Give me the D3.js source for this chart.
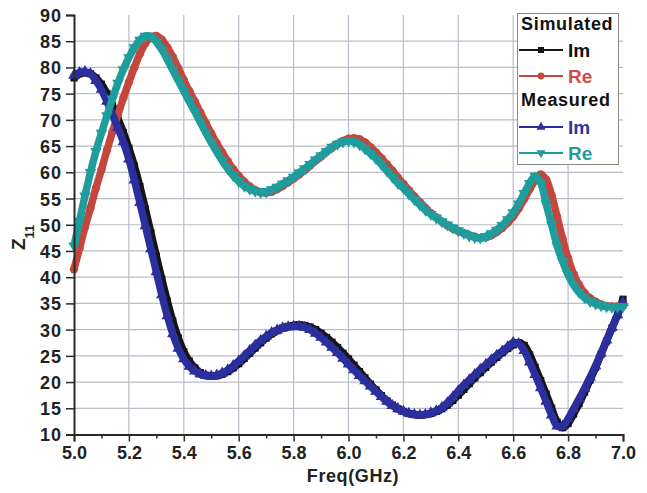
<!DOCTYPE html>
<html>
<head>
<meta charset="utf-8">
<script src="https://cdn.jsdelivr.net/npm/d3@7"></script>
<style>
  html, body { margin: 0; padding: 0; background: #fff; }
  svg { display: block; font-family: "Liberation Sans", Arial, sans-serif; }
</style>
</head>
<body>
<svg id="chart" width="647" height="493"></svg>
<script>
// Frequency sweep (GHz)
const freq = [
  5.00,5.02,5.04,5.06,5.08,5.10,5.12,5.14,5.16,5.18,
  5.20,5.22,5.24,5.26,5.28,5.30,5.32,5.34,5.36,5.38,
  5.40,5.42,5.44,5.46,5.48,5.50,5.52,5.54,5.56,5.58,
  5.60,5.62,5.64,5.66,5.68,5.70,5.72,5.74,5.76,5.78,
  5.80,5.82,5.84,5.86,5.88,5.90,5.92,5.94,5.96,5.98,
  6.00,6.02,6.04,6.06,6.08,6.10,6.12,6.14,6.16,6.18,
  6.20,6.22,6.24,6.26,6.28,6.30,6.32,6.34,6.36,6.38,
  6.40,6.42,6.44,6.46,6.48,6.50,6.52,6.54,6.56,6.58,
  6.60,6.62,6.64,6.66,6.68,6.70,6.72,6.74,6.76,6.78,
  6.80,6.82,6.84,6.86,6.88,6.90,6.92,6.94,6.96,6.98,
  7.00
];

// Simulated Z11, imaginary part
const simIm = [
  78.0,78.8,79.0,78.8,78.0,76.8,75.0,72.8,70.3,67.6,
  64.6,61.2,57.3,53.0,48.5,44.0,39.6,35.4,31.6,28.4,
  25.8,24.0,22.7,21.8,21.3,21.1,21.2,21.5,22.0,22.7,
  23.5,24.5,25.5,26.5,27.5,28.4,29.2,29.8,30.3,30.6,
  30.8,30.9,30.8,30.5,30.0,29.3,28.5,27.6,26.6,25.5,
  24.4,23.2,22.0,20.8,19.6,18.5,17.4,16.4,15.6,14.9,
  14.4,14.0,13.8,13.7,13.8,14.0,14.4,14.9,15.6,16.5,
  17.5,18.6,19.7,20.8,21.8,22.8,23.8,24.7,25.6,26.4,
  27.1,27.5,27.0,25.2,22.8,20.3,17.7,15.0,12.4,11.3,
  12.1,13.9,15.9,18.1,20.4,22.8,25.3,27.8,30.3,32.8,
  35.8
];

// Simulated Z11, real part
const simRe = [
  41.5,45.5,49.5,53.2,57.0,60.5,64.2,67.7,71.0,74.2,
  77.2,80.0,82.6,84.6,85.8,86.0,85.3,83.8,82.0,79.8,
  77.6,75.5,73.5,71.4,69.4,67.4,65.5,63.8,62.1,60.6,
  59.3,58.2,57.3,56.6,56.2,56.1,56.3,56.8,57.4,58.1,
  58.8,59.6,60.4,61.3,62.2,63.0,63.9,64.7,65.4,66.0,
  66.4,66.5,66.3,65.7,64.8,63.8,62.7,61.5,60.3,59.0,
  57.8,56.6,55.4,54.3,53.2,52.2,51.4,50.6,49.9,49.3,
  48.8,48.4,48.0,47.7,47.5,47.6,48.0,48.6,49.4,50.4,
  51.6,53.1,54.9,56.8,58.5,59.6,58.6,55.6,51.5,47.3,
  43.6,40.6,38.5,37.0,36.0,35.3,34.8,34.5,34.4,34.4,
  34.5
];

// Measured Z11, imaginary part
const meaIm = [
  78.5,79.0,79.2,78.8,77.5,75.8,73.5,71.0,68.5,65.8,
  62.5,58.5,54.2,49.8,45.4,41.0,36.6,32.6,29.2,26.4,
  24.4,23.0,22.1,21.5,21.2,21.1,21.3,21.7,22.3,23.1,
  24.0,25.0,26.0,27.0,27.9,28.7,29.4,29.9,30.3,30.5,
  30.6,30.6,30.4,30.0,29.3,28.5,27.6,26.6,25.6,24.5,
  23.4,22.3,21.2,20.2,19.2,18.2,17.2,16.3,15.5,14.9,
  14.4,14.0,13.8,13.7,13.8,14.1,14.5,15.1,16.0,17.1,
  18.3,19.4,20.4,21.4,22.4,23.3,24.2,25.1,25.9,26.7,
  27.5,27.3,26.0,23.8,21.4,18.9,16.3,13.7,11.6,11.6,
  13.0,14.9,16.8,18.8,20.9,23.1,25.5,28.0,30.4,32.8,
  35.2
];

// Measured Z11, real part
const meaRe = [
  46.0,50.7,55.5,60.0,64.0,67.5,70.8,74.0,77.0,79.6,
  81.9,83.8,85.2,86.0,85.9,84.9,83.4,81.5,79.5,77.5,
  75.5,73.5,71.6,69.6,67.6,65.7,63.9,62.2,60.7,59.4,
  58.3,57.4,56.8,56.4,56.2,56.3,56.7,57.2,57.8,58.4,
  59.1,59.9,60.7,61.5,62.4,63.2,64.0,64.8,65.4,65.8,
  66.0,65.8,65.3,64.5,63.6,62.6,61.5,60.3,59.1,57.9,
  57.0,55.9,54.8,53.8,52.8,52.0,51.3,50.6,50.0,49.4,
  48.9,48.4,47.9,47.6,47.5,47.8,48.3,49.0,49.9,51.0,
  52.3,54.0,56.0,57.9,59.3,58.0,54.0,50.0,46.0,43.0,
  40.5,38.5,37.1,36.1,35.4,34.9,34.6,34.4,34.3,34.3,
  34.4
];

// Axis ticks
const xTicks = [5.0,5.2,5.4,5.6,5.8,6.0,6.2,6.4,6.6,6.8,7.0];
const xMinorTicks = [5.1,5.3,5.5,5.7,5.9,6.1,6.3,6.5,6.7,6.9];
const yTicks = [10,15,20,25,30,35,40,45,50,55,60,65,70,75,80,85,90];
const yGrid = [15,20,25,30,35,40,45,50,55,60,65,70,75,80,85];

const series = [
  { group: "Simulated", name: "Im", values: simIm, color: "#151515", text: "#111111", symbol: "square" },
  { group: "Simulated", name: "Re", values: simRe, color: "#c4473d", text: "#d24b45", symbol: "circle" },
  { group: "Measured",  name: "Im", values: meaIm, color: "#2b2f9e", text: "#2b3a9e", symbol: "up" },
  { group: "Measured",  name: "Re", values: meaRe, color: "#1f9c9c", text: "#1f9c9c", symbol: "down" }
];

const svg = d3.select("#chart");
const plotL = 74, plotR = 623, plotT = 15, plotB = 434.5;

const x = d3.scaleLinear().domain([5, 7]).range([plotL, plotR]);
const y = d3.scaleLinear().domain([10, 90]).range([plotB, plotT]);

// grid
const grid = svg.append("g").attr("stroke", "#b9bdc9").attr("stroke-width", 1.2);
grid.selectAll("line.h").data(yGrid).join("line")
  .attr("class", "h")
  .attr("x1", plotL).attr("x2", plotR)
  .attr("y1", d => y(d)).attr("y2", d => y(d));
grid.selectAll("line.v").data(xTicks.slice(1, -1)).join("line")
  .attr("class", "v")
  .attr("x1", d => x(d)).attr("x2", d => x(d))
  .attr("y1", plotB).attr("y2", plotT);

// symbol shapes
function symbolPath(kind, size) {
  if (kind === "square") return d3.symbol(d3.symbolSquare, size)();
  if (kind === "circle") return d3.symbol(d3.symbolCircle, size)();
  return d3.symbol(d3.symbolTriangle, size)();
}
const markerSize = { square: 52, circle: 56, up: 58, down: 58 };

const line = d3.line()
  .x((d, i) => x(freq[i]))
  .y(d => y(d))
  .curve(d3.curveCatmullRom.alpha(0.5));

const plot = svg.append("g");
series.forEach(s => {
  const g = plot.append("g");
  g.append("path")
    .attr("d", line(s.values))
    .attr("fill", "none")
    .attr("stroke", s.color)
    .attr("stroke-width", 7.5)
    .attr("stroke-linejoin", "round");
  const p = symbolPath(s.symbol, markerSize[s.symbol]);
  g.selectAll("path.m").data(s.values).join("path")
    .attr("class", "m")
    .attr("d", p)
    .attr("fill", s.color)
    .attr("transform", (d, i) =>
      `translate(${x(freq[i])},${y(d)})` + (s.symbol === "down" ? " rotate(180)" : ""));
});

// axes
const fmt = d3.format(".1f");
const xAxis = svg.append("g").attr("transform", `translate(0,${plotB})`)
  .call(d3.axisBottom(x).tickValues(xTicks).tickFormat(fmt).tickSize(7).tickPadding(5));
svg.append("g").attr("transform", `translate(0,${plotB})`)
  .call(d3.axisBottom(x).tickValues(xMinorTicks).tickFormat("").tickSize(4))
  .call(g => g.select(".domain").remove())
  .selectAll("line").attr("stroke", "#2a2a2a").attr("stroke-width", 1.5);
const yAxis = svg.append("g").attr("transform", `translate(${plotL},0)`)
  .call(d3.axisLeft(y).tickValues(yTicks).tickSize(8).tickPadding(4));

[xAxis, yAxis].forEach(a => {
  a.select(".domain").attr("stroke", "#2a2a2a").attr("stroke-width", 2);
  a.selectAll(".tick line").attr("stroke", "#2a2a2a").attr("stroke-width", 1.5);
  a.selectAll(".tick text")
    .attr("fill", "#222")
    .attr("font-family", "'Liberation Sans', Arial, sans-serif")
    .attr("font-weight", "bold")
    .attr("font-size", 18);
});
yAxis.selectAll(".tick text").attr("letter-spacing", 1).attr("dy", "0.36em");

// axis titles
svg.append("text")
  .attr("x", 353).attr("y", 482)
  .attr("text-anchor", "middle")
  .attr("font-weight", "bold").attr("font-size", 18)
  .attr("letter-spacing", 0.6)
  .attr("fill", "#222")
  .text("Freq(GHz)");

const yt = svg.append("text")
  .attr("transform", "translate(25,250) rotate(-90)")
  .attr("font-weight", "bold").attr("fill", "#222");
yt.append("tspan").attr("font-size", 19).text("Z");
yt.append("tspan").attr("font-size", 13).attr("dy", 9).text("11");

// legend
const lg = svg.append("g");
lg.append("rect")
  .attr("x", 517.5).attr("y", 13.5).attr("width", 101).attr("height", 151)
  .attr("fill", "#fff").attr("stroke", "#8a8a8a").attr("stroke-width", 1);

const legendRows = [
  { type: "head", text: "Simulated", y: 30 },
  { type: "item", s: series[0], y: 50 },
  { type: "item", s: series[1], y: 76 },
  { type: "head", text: "Measured", y: 106 },
  { type: "item", s: series[2], y: 127 },
  { type: "item", s: series[3], y: 153 }
];
legendRows.forEach(r => {
  if (r.type === "head") {
    lg.append("text")
      .attr("x", 521).attr("y", r.y)
      .attr("font-weight", "bold").attr("font-size", 18)
      .attr("letter-spacing", 0.7)
      .attr("fill", "#111")
      .text(r.text);
  } else {
    lg.append("line")
      .attr("x1", 519).attr("x2", 563).attr("y1", r.y).attr("y2", r.y)
      .attr("stroke", r.s.color).attr("stroke-width", 1.8);
    lg.append("path")
      .attr("d", symbolPath(r.s.symbol, 36))
      .attr("fill", r.s.color)
      .attr("transform", `translate(541,${r.y})` + (r.s.symbol === "down" ? " rotate(180)" : ""));
    lg.append("text")
      .attr("x", 568).attr("y", r.y + 6.5)
      .attr("font-weight", "bold").attr("font-size", 19)
      .attr("fill", r.s.text)
      .text(r.s.name);
  }
});
</script>
</body>
</html>
